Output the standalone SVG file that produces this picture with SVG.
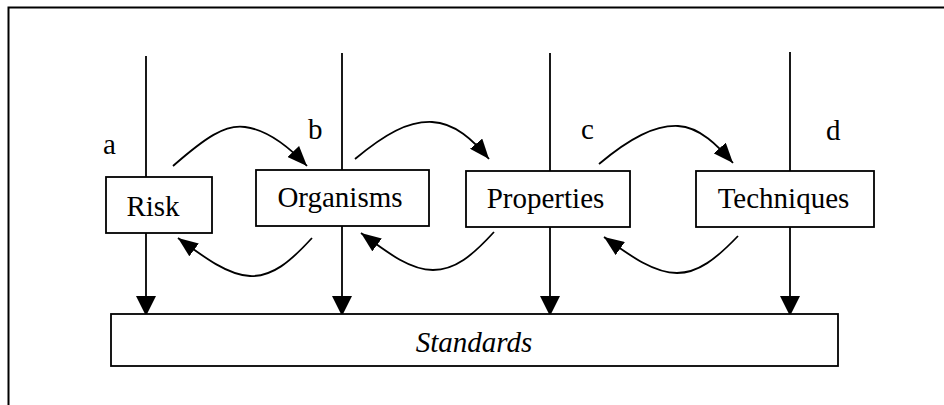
<svg xmlns="http://www.w3.org/2000/svg" width="944" height="405" viewBox="0 0 944 405">
<style>
.box{fill:#fff;stroke:#000;stroke-width:1.8}
.ln{fill:none;stroke:#000;stroke-width:1.8}
.t{font-family:"Liberation Serif","Times New Roman",serif;font-size:29px;fill:#000}
.tm{text-anchor:middle}
.it{font-style:italic}
</style>
<defs>
<marker id="ah" viewBox="0 0 20 20" refX="20" refY="10" markerWidth="20" markerHeight="20" markerUnits="userSpaceOnUse" orient="auto">
<path d="M0,0 L20,10 L0,20 z" fill="#000"/>
</marker>
<marker id="ahc" viewBox="0 0 20 16" refX="20" refY="8" markerWidth="20" markerHeight="16" markerUnits="userSpaceOnUse" orient="auto">
<path d="M0,0 L20,8 L0,16 z" fill="#000"/>
</marker>
</defs>
<g id="frame">
<path d="M8.5,405 L8.5,7.5 L944,7.5" fill="none" stroke="#000" stroke-width="2"/>
</g>
<g id="connectors">
<path class="ln" d="M146,56 L146,316" marker-end="url(#ah)"/>
<path class="ln" d="M342,53 L342,316" marker-end="url(#ah)"/>
<path class="ln" d="M550,53 L550,316" marker-end="url(#ah)"/>
<path class="ln" d="M790,52 L790,316" marker-end="url(#ah)"/>
<path class="ln" d="M173,166 C205,138 225,124 245,127 C268,130 290,148 307,166" marker-end="url(#ahc)"/>
<path class="ln" d="M355,159 C385,134 408,121 432,122 C455,123 473,140 489,159" marker-end="url(#ahc)"/>
<path class="ln" d="M599,164 C630,138 655,125 678,126 C700,127 718,146 733,163" marker-end="url(#ahc)"/>
<path class="ln" d="M312,238 C290,262 272,277 250,276 C228,275 205,258 178,238" marker-end="url(#ahc)"/>
<path class="ln" d="M494,232 C472,256 455,270 433,270 C410,270 388,253 361,233" marker-end="url(#ahc)"/>
<path class="ln" d="M738,236 C716,259 698,273 677,273 C654,273 632,257 604,237" marker-end="url(#ahc)"/>
</g>
<g id="labels">
<text class="t" x="103" y="154">a</text>
<text class="t" x="308" y="139">b</text>
<text class="t" x="581" y="139">c</text>
<text class="t" x="826" y="140">d</text>
</g>
<g id="risk">
<rect class="box" x="106" y="177" width="106" height="56"/>
<text class="t tm" x="153" y="216">Risk</text>
</g>
<g id="organisms">
<rect class="box" x="256" y="170" width="173" height="56"/>
<text class="t tm" x="340" y="207">Organisms</text>
</g>
<g id="properties">
<rect class="box" x="466" y="171" width="164" height="56"/>
<text class="t tm" x="545.5" y="208">Properties</text>
</g>
<g id="techniques">
<rect class="box" x="696" y="171" width="178" height="56"/>
<text class="t tm" x="783.5" y="208">Techniques</text>
</g>
<g id="standards">
<rect class="box" x="111" y="314" width="727" height="52"/>
<text class="t tm it" x="474" y="352">Standards</text>
</g>
</svg>
